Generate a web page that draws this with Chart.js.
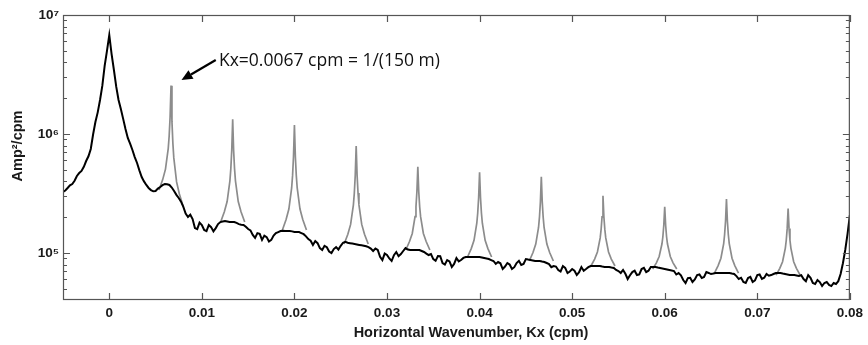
<!DOCTYPE html>
<html>
<head>
<meta charset="utf-8">
<script src="https://cdn.jsdelivr.net/npm/chart.js@4.4.1/dist/chart.umd.min.js"></script>
<style>
  html, body { margin: 0; padding: 0; background: #ffffff; }
  #wrap { width: 868px; height: 345px; position: relative; }
</style>
</head>
<body>
<div id="wrap"><canvas id="c" width="868" height="345"></canvas></div>
<script>
// ---------------- DATA ----------------
// Black spectrum: Kx from -0.005 to 0.08 cpm, step 0.0005 (171 samples)
const kxStart = -0.005;
const kxStep = 0.0005;
const blackAmp = [
  3.26e5,3.52e5,3.80e5,4.44e5,4.89e5,5.93e5,7.48e5,1.26e6,1.93e6,3.73e6,
  6.79e6,3.45e6,1.93e6,1.34e6,9.26e5,7.34e5,5.71e5,4.35e5,3.73e5,3.38e5,
  3.32e5,3.59e5,3.80e5,3.73e5,3.32e5,2.90e5,2.44e5,2.01e5,1.93e5,1.59e5,
  1.72e5,1.53e5,1.65e5,1.62e5,1.82e5,1.86e5,1.82e5,1.82e5,1.75e5,1.72e5,
  1.59e5,1.42e5,1.47e5,1.29e5,1.36e5,1.29e5,1.47e5,1.53e5,1.53e5,1.53e5,
  1.50e5,1.50e5,1.44e5,1.31e5,1.17e5,1.21e5,1.06e5,1.12e5,1.00e5,1.12e5,
  1.15e5,1.24e5,1.21e5,1.19e5,1.17e5,1.15e5,1.12e5,1.04e5,1.06e5,8.73e4,
  9.62e4,8.57e4,1.02e5,9.81e4,1.10e5,1.06e5,1.06e5,1.06e5,1.02e5,9.62e4,
  8.90e4,9.44e4,8.24e4,8.73e4,7.63e4,9.08e4,8.73e4,9.26e4,9.26e4,9.26e4,
  9.26e4,9.08e4,8.90e4,8.57e4,8.40e4,7.34e4,8.24e4,7.34e4,8.24e4,7.93e4,
  8.90e4,8.73e4,8.57e4,8.57e4,8.40e4,8.08e4,7.78e4,7.20e4,7.78e4,6.79e4,
  7.34e4,6.53e4,7.63e4,7.34e4,7.78e4,7.78e4,7.78e4,7.63e4,7.63e4,7.48e4,
  7.06e4,7.20e4,6.05e4,6.92e4,6.53e4,7.34e4,6.92e4,7.63e4,7.63e4,7.48e4,
  7.34e4,7.20e4,7.06e4,6.79e4,5.93e4,6.16e4,5.71e4,6.53e4,6.16e4,6.92e4,
  6.66e4,6.79e4,6.79e4,6.79e4,6.79e4,6.66e4,6.05e4,5.71e4,6.16e4,5.71e4,
  6.53e4,6.05e4,6.66e4,6.53e4,6.79e4,6.79e4,6.66e4,6.53e4,6.53e4,6.41e4,
  6.05e4,6.53e4,5.60e4,5.93e4,5.28e4,5.71e4,5.28e4,5.49e4,6.66e4,1.06e5,
  2.08e5
];
// Black spectrum samples halfway between the ones above (Kx = -0.00475 ... 0.07975)
const blackAmpMid = [
  3.35e5,3.70e5,4.05e5,4.70e5,5.30e5,6.50e5,9.90e5,1.52e6,2.55e6,5.00e6,
  4.70e6,2.50e6,1.62e6,1.10e6,8.30e5,6.40e5,4.95e5,4.00e5,3.52e5,3.30e5,
  3.48e5,3.72e5,3.78e5,3.55e5,3.08e5,2.70e5,2.15e5,2.10e5,1.62e5,1.80e5,
  1.56e5,1.72e5,1.52e5,1.75e5,1.84e5,1.84e5,1.82e5,1.79e5,1.73e5,1.66e5,
  1.55e5,1.34e5,1.45e5,1.40e5,1.25e5,1.40e5,1.50e5,1.54e5,1.53e5,1.52e5,
  1.50e5,1.47e5,1.38e5,1.27e5,1.26e5,1.10e5,1.15e5,1.03e5,1.08e5,1.07e5,
  1.22e5,1.22e5,1.20e5,1.18e5,1.16e5,1.14e5,1.09e5,1.09e5,9.30e4,9.90e4,
  9.00e4,9.60e4,9.40e4,1.04e5,1.07e5,1.06e5,1.06e5,1.04e5,9.90e4,9.80e4,
  8.60e4,9.40e4,8.00e4,8.50e4,8.10e4,8.50e4,9.10e4,9.26e4,9.26e4,9.26e4,
  9.17e4,8.99e4,8.73e4,8.10e4,8.20e4,7.70e4,8.00e4,7.60e4,8.60e4,8.10e4,
  8.81e4,8.65e4,8.57e4,8.48e4,8.24e4,7.60e4,7.70e4,7.00e4,7.50e4,7.00e4,
  7.10e4,6.90e4,7.10e4,7.60e4,7.78e4,7.78e4,7.70e4,7.63e4,7.55e4,7.20e4,
  6.80e4,6.70e4,6.50e4,7.10e4,6.60e4,7.50e4,7.10e4,7.63e4,7.55e4,7.41e4,
  7.27e4,7.13e4,6.60e4,6.50e4,5.60e4,6.20e4,6.00e4,6.60e4,6.30e4,6.80e4,
  6.72e4,6.79e4,6.79e4,6.79e4,6.72e4,6.40e4,6.20e4,5.60e4,6.30e4,5.90e4,
  6.60e4,6.20e4,6.45e4,6.66e4,6.79e4,6.72e4,6.60e4,6.53e4,6.47e4,6.50e4,
  5.80e4,6.20e4,5.50e4,5.70e4,5.60e4,5.40e4,5.60e4,5.80e4,8.20e4,1.45e5
];

// Grey spectrum: narrow peaks at multiples of 1/(150 m)
const peakKx = [0.00667, 0.01333, 0.02, 0.02667, 0.03333, 0.04, 0.04667, 0.05333, 0.06, 0.06667, 0.07333];
const peakOffsets = [-0.0013,-0.0009,-0.0006,-0.0003,-0.0002,-0.0001,0,0.0001,0.0002,0.0003,0.0006,0.0009,0.0013];
const greyAmp = [
  [3.38e5,4.14e5,5.07e5,7.58e5,9.66e5,1.39e6,2.55e6,1.27e6,8.34e5,6.30e5,3.96e5,3.13e5,2.48e5],
  [1.82e5,2.22e5,2.71e5,4.04e5,5.12e5,7.32e5,1.33e6,7.32e5,5.12e5,4.04e5,2.71e5,2.22e5,1.82e5],
  [1.56e5,1.91e5,2.34e5,3.52e5,4.49e5,6.47e5,1.19e6,6.47e5,4.49e5,3.52e5,2.34e5,1.91e5,1.56e5],
  [1.19e5,1.44e5,1.74e5,2.54e5,3.19e5,4.49e5,7.93e5,4.49e5,3.19e5,2.54e5,1.74e5,1.44e5,1.19e5],
  [1.06e5,1.25e5,1.46e5,2.02e5,2.45e5,3.27e5,5.31e5,3.27e5,2.45e5,2.02e5,1.46e5,1.25e5,1.06e5],
  [9.26e4,1.09e5,1.28e5,1.78e5,2.17e5,2.92e5,4.77e5,2.92e5,2.17e5,1.78e5,1.28e5,1.09e5,9.26e4],
  [8.57e4,1.01e5,1.19e5,1.64e5,2.00e5,2.68e5,4.38e5,2.68e5,2.00e5,1.64e5,1.19e5,1.01e5,8.57e4],
  [7.78e4,8.90e4,1.02e5,1.34e5,1.58e5,2.01e5,3.03e5,2.01e5,1.58e5,1.34e5,1.02e5,8.90e4,7.78e4],
  [7.34e4,8.27e4,9.35e4,1.19e5,1.37e5,1.71e5,2.45e5,1.71e5,1.37e5,1.19e5,9.35e4,8.27e4,7.34e4],
  [6.79e4,7.84e4,9.04e4,1.20e5,1.43e5,1.85e5,2.84e5,1.85e5,1.43e5,1.20e5,9.04e4,7.84e4,6.79e4],
  [6.53e4,7.44e4,8.45e4,1.10e5,1.28e5,1.61e5,2.37e5,1.61e5,1.28e5,1.10e5,8.45e4,7.44e4,6.53e4]
];

// Axes
const xMin = -0.005, xMax = 0.08;
const yMin = 4.03e4, yMax = 1e7;
const xTickValues = [0, 0.01, 0.02, 0.03, 0.04, 0.05, 0.06, 0.07, 0.08];
const xTickLabels = ['0', '0.01', '0.02', '0.03', '0.04', '0.05', '0.06', '0.07', '0.08'];
const yTickValues = [1e5, 1e6, 1e7];
const yTickLabels = ['10\u2075', '10\u2076', '10\u2077'];
const xTitle = 'Horizontal Wavenumber, Kx (cpm)';
const yTitle = 'Amp\u00B2/cpm';

// Annotation (data coordinates): arrow tail, arrow tip, text anchor
const noteText = 'Kx=0.0067 cpm = 1/(150 m)';
const noteArrowTail = [0.0115, 4.19e6];
const noteArrowTip = [0.0078, 2.84e6];
const noteTextAt = [0.01185, 4.1e6];

// ---------------- BUILD ----------------
const blackData = [];
blackAmp.forEach((v, i) => {
  blackData.push({ x: +(kxStart + i * kxStep).toFixed(5), y: v });
  if (i < blackAmpMid.length) blackData.push({ x: +(kxStart + (i + 0.5) * kxStep).toFixed(5), y: blackAmpMid[i] });
});
const greyData = [];
peakKx.forEach((k, p) => {
  peakOffsets.forEach((o, j) => greyData.push({ x: +(k + o).toFixed(5), y: greyAmp[p][j] }));
  greyData.push({ x: +(k + 0.0015).toFixed(5), y: null });
});

const FRAME = '#555555';

const framePlugin = {
  id: 'frameTicks',
  afterDatasetsDraw(chart) {
    const ctx = chart.ctx;
    const { left, right, top, bottom } = chart.chartArea;
    const xs = chart.scales.x, ys = chart.scales.y;
    ctx.save();
    ctx.strokeStyle = FRAME;
    ctx.lineWidth = 1.2;
    ctx.strokeRect(left + 0.5, top + 0.5, right - left - 1, bottom - top - 1);
    ctx.beginPath();
    xTickValues.forEach(v => {
      const px = Math.round(xs.getPixelForValue(v)) + 0.5;
      ctx.moveTo(px, bottom); ctx.lineTo(px, bottom - 7);
      ctx.moveTo(px, top); ctx.lineTo(px, top + 7);
    });
    for (let e = 4; e <= 7; e++) {
      for (let m = 1; m <= 9; m++) {
        const v = m * Math.pow(10, e);
        if (v < yMin || v > yMax) continue;
        const py = Math.round(ys.getPixelForValue(v)) + 0.5;
        const len = m === 1 ? 7 : 4;
        ctx.moveTo(left, py); ctx.lineTo(left + len, py);
        ctx.moveTo(right, py); ctx.lineTo(right - len, py);
      }
    }
    ctx.stroke();

    // Axis titles
    ctx.fillStyle = '#1a1a1a';
    ctx.font = 'bold 14.5px "Liberation Sans", Arial, sans-serif';
    ctx.textAlign = 'center';
    ctx.textBaseline = 'middle';
    ctx.fillText(xTitle, 471, 333);
    ctx.save();
    ctx.translate(18, 146);
    ctx.rotate(-Math.PI / 2);
    ctx.fillText(yTitle, 0, 0);
    ctx.restore();

    // Annotation arrow
    const tx = xs.getPixelForValue(noteArrowTail[0]), ty = ys.getPixelForValue(noteArrowTail[1]);
    const hx = xs.getPixelForValue(noteArrowTip[0]), hy = ys.getPixelForValue(noteArrowTip[1]);
    const ang = Math.atan2(hy - ty, hx - tx);
    const hl = 11, hw = 5;
    const bx = hx - hl * Math.cos(ang), by = hy - hl * Math.sin(ang);
    ctx.strokeStyle = '#000';
    ctx.lineWidth = 2.2;
    ctx.beginPath();
    ctx.moveTo(tx, ty); ctx.lineTo(bx, by);
    ctx.stroke();
    ctx.fillStyle = '#000';
    ctx.beginPath();
    ctx.moveTo(hx, hy);
    ctx.lineTo(bx + hw * Math.sin(ang), by - hw * Math.cos(ang));
    ctx.lineTo(bx - hw * Math.sin(ang), by + hw * Math.cos(ang));
    ctx.closePath();
    ctx.fill();
    ctx.font = '17.5px "Open Sans", "Liberation Sans", sans-serif';
    ctx.textAlign = 'left';
    ctx.textBaseline = 'middle';
    ctx.fillStyle = '#111';
    ctx.fillText(noteText, xs.getPixelForValue(noteTextAt[0]), ys.getPixelForValue(noteTextAt[1]));
    ctx.restore();
  }
};

new Chart(document.getElementById('c'), {
  type: 'line',
  data: {
    datasets: [
      { label: 'black', data: blackData, borderColor: '#000000', borderWidth: 2, pointRadius: 0, tension: 0, fill: false },
      { label: 'grey', data: greyData, borderColor: '#8c8c8c', borderWidth: 1.7, pointRadius: 0, tension: 0, fill: false, spanGaps: false }
    ]
  },
  options: {
    responsive: false,
    animation: false,
    events: [],
    layout: { padding: { left: 0, right: 16, top: 15, bottom: 0 } },
    plugins: { legend: { display: false }, tooltip: { enabled: false }, title: { display: false } },
    scales: {
      x: {
        type: 'linear', min: xMin, max: xMax,
        grid: { display: false, drawTicks: false },
        border: { display: false },
        afterBuildTicks: s => { s.ticks = xTickValues.map(v => ({ value: v })); },
        afterFit: s => { s.height = 45; },
        ticks: {
          padding: 5,
          color: '#1a1a1a',
          font: { family: '"Liberation Sans", Arial, sans-serif', size: 13.5, weight: 'bold' },
          callback: (v, i) => xTickLabels[i],
          maxRotation: 0, autoSkip: false
        }
      },
      y: {
        type: 'logarithmic', min: yMin, max: yMax,
        grid: { display: false, drawTicks: false },
        border: { display: false },
        afterBuildTicks: s => { s.ticks = yTickValues.map(v => ({ value: v })); },
        afterFit: s => { s.width = 63; },
        ticks: {
          padding: 4,
          color: '#1a1a1a',
          font: { family: '"Liberation Sans", Arial, sans-serif', size: 13.5, weight: 'bold' },
          callback: (v, i) => yTickLabels[i],
          autoSkip: false
        }
      }
    }
  },
  plugins: [framePlugin]
});
</script>
</body>
</html>
